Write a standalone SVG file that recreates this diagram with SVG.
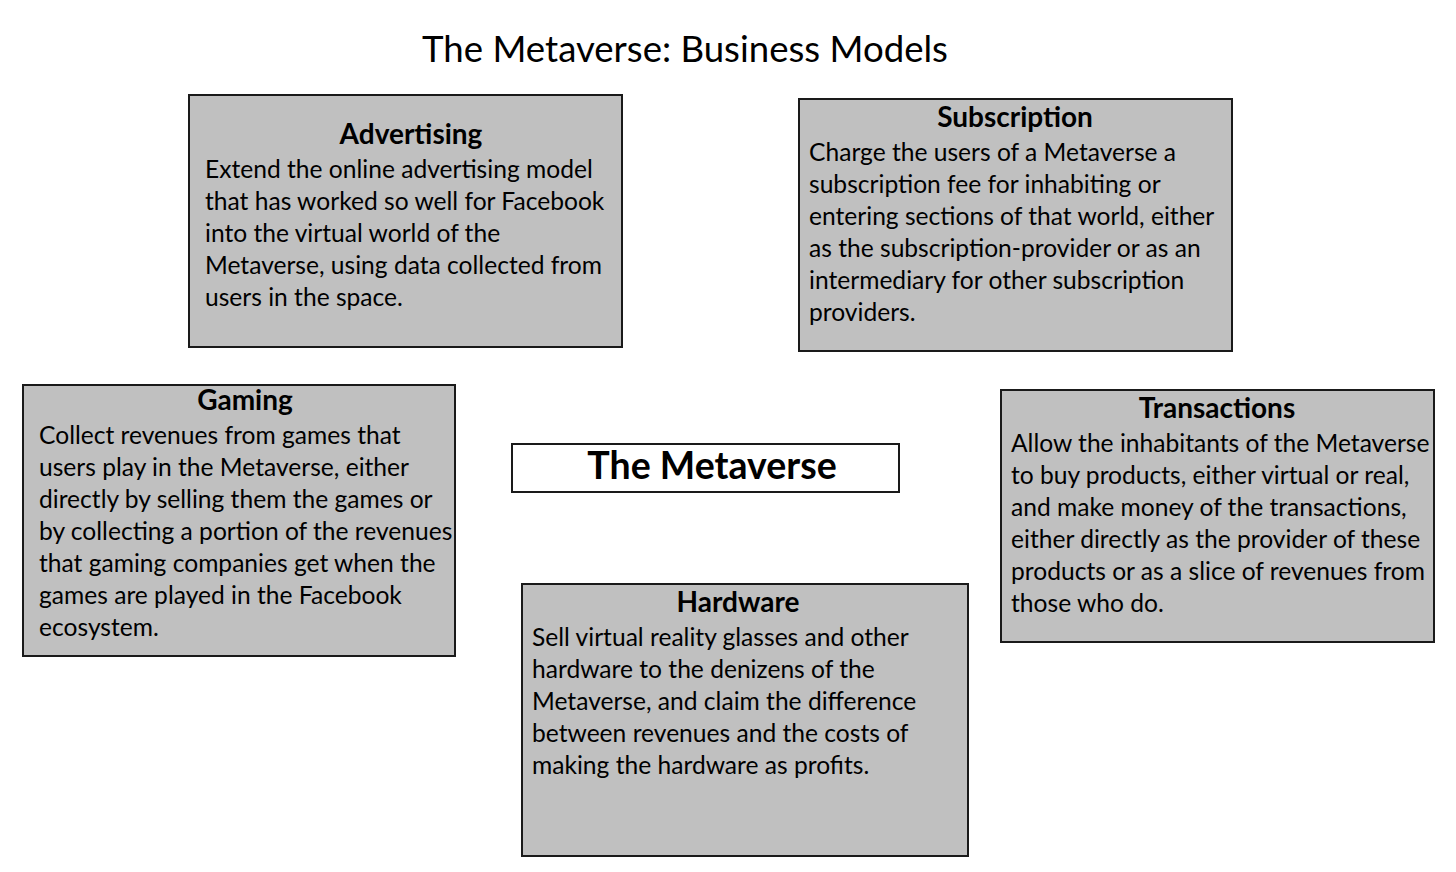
<svg xmlns="http://www.w3.org/2000/svg" width="1456" height="872" viewBox="0 0 1456 872">
<style>
.box{fill:#c0c0c0;stroke:#1a1a1a;stroke-width:2}
.center{fill:#ffffff;stroke:#1a1a1a;stroke-width:2}
text{font-family:Lato,"Noto Sans","Liberation Sans",sans-serif;fill:#000}
.h{font-size:28px;font-weight:bold;text-anchor:middle}
.b{font-size:24.6px}
.title{font-size:36.6px;text-anchor:middle}
.ct{font-size:37.5px;font-weight:bold;text-anchor:middle}
</style>
<rect width="1456" height="872" fill="#ffffff"/>
<text class="title" x="685" y="62">The Metaverse: Business Models</text>
<g id="connectors"></g>
<g id="advertising">
<rect class="box" x="189" y="95" width="433" height="252"/>
<text class="h" x="411" y="144">Advertising</text>
<text class="b" x="205" y="178">Extend the online advertising model</text>
<text class="b" x="205" y="210">that has worked so well for Facebook</text>
<text class="b" x="205" y="242">into the virtual world of the</text>
<text class="b" x="205" y="274">Metaverse, using data collected from</text>
<text class="b" x="205" y="306">users in the space.</text>
</g>
<g id="subscription">
<rect class="box" x="799" y="99" width="433" height="252"/>
<text class="h" x="1015" y="127">Subscription</text>
<text class="b" x="809" y="161">Charge the users of a Metaverse a</text>
<text class="b" x="809" y="193">subscription fee for inhabiting or</text>
<text class="b" x="809" y="225">entering sections of that world, either</text>
<text class="b" x="809" y="257">as the subscription-provider or as an</text>
<text class="b" x="809" y="289">intermediary for other subscription</text>
<text class="b" x="809" y="321">providers.</text>
</g>
<g id="gaming">
<rect class="box" x="23" y="385" width="432" height="271"/>
<text class="h" x="245" y="410">Gaming</text>
<text class="b" x="39" y="444">Collect revenues from games that</text>
<text class="b" x="39" y="476">users play in the Metaverse, either</text>
<text class="b" x="39" y="508">directly by selling them the games or</text>
<text class="b" x="39" y="540">by collecting a portion of the revenues</text>
<text class="b" x="39" y="572">that gaming companies get when the</text>
<text class="b" x="39" y="604">games are played in the Facebook</text>
<text class="b" x="39" y="636">ecosystem.</text>
</g>
<g id="metaverse">
<rect class="center" x="512" y="444" width="387" height="48"/>
<text class="ct" x="712" y="479">The Metaverse</text>
</g>
<g id="transactions">
<rect class="box" x="1001" y="390" width="433" height="252"/>
<text class="h" x="1217" y="418">Transactions</text>
<text class="b" x="1011" y="452">Allow the inhabitants of the Metaverse</text>
<text class="b" x="1011" y="484">to buy products, either virtual or real,</text>
<text class="b" x="1011" y="516">and make money of the transactions,</text>
<text class="b" x="1011" y="548">either directly as the provider of these</text>
<text class="b" x="1011" y="580">products or as a slice of revenues from</text>
<text class="b" x="1011" y="612">those who do.</text>
</g>
<g id="hardware">
<rect class="box" x="522" y="584" width="446" height="272"/>
<text class="h" x="738" y="612">Hardware</text>
<text class="b" x="532" y="646">Sell virtual reality glasses and other</text>
<text class="b" x="532" y="678">hardware to the denizens of the</text>
<text class="b" x="532" y="710">Metaverse, and claim the difference</text>
<text class="b" x="532" y="742">between revenues and the costs of</text>
<text class="b" x="532" y="774">making the hardware as profits.</text>
</g>
</svg>
